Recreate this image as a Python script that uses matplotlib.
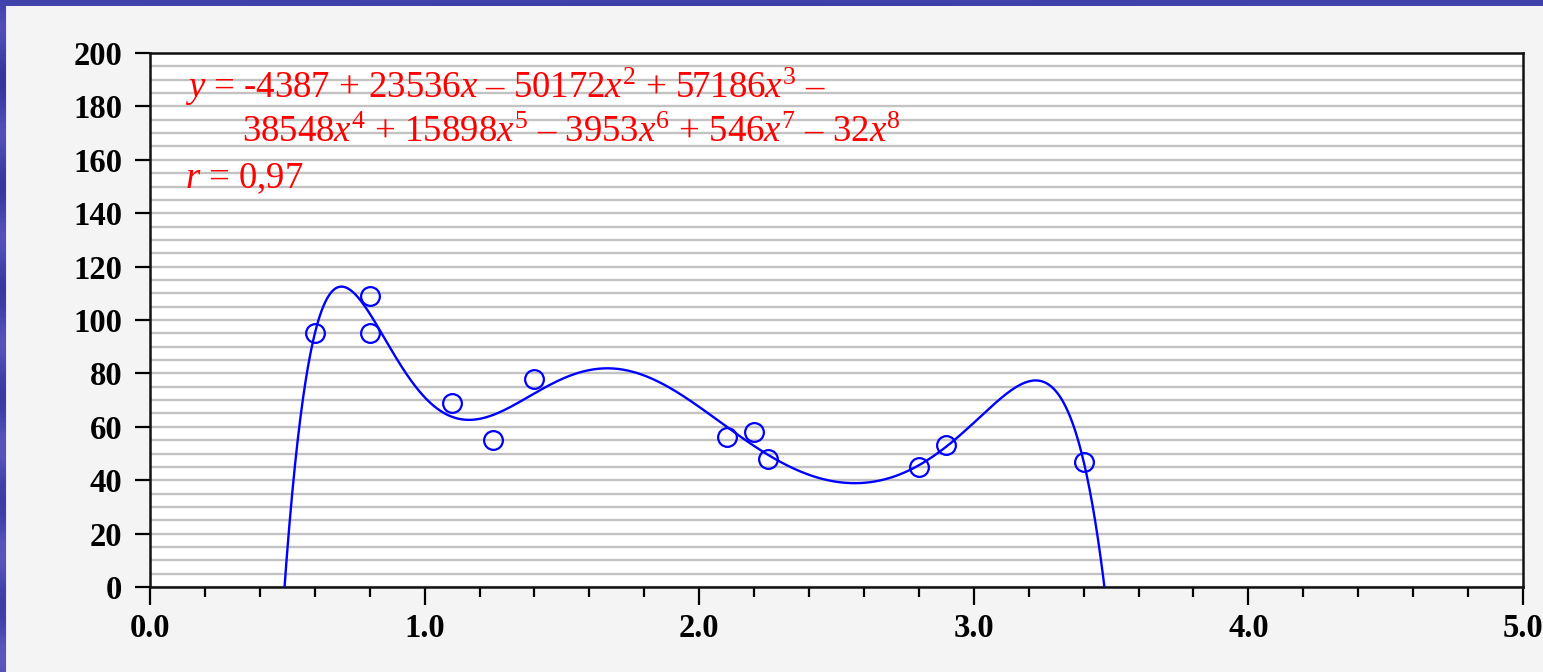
import numpy as np
import matplotlib
matplotlib.use("Agg")
import matplotlib.pyplot as plt
from matplotlib.patches import Rectangle

plt.rcParams["mathtext.fontset"] = "custom"
plt.rcParams["mathtext.rm"] = "Liberation Serif"
plt.rcParams["mathtext.it"] = "Liberation Serif:italic"

# Measured points
x_obs = [0.6, 0.8, 0.8, 1.1, 1.25, 1.4, 2.1, 2.2, 2.25, 2.8, 2.9, 3.4]
y_obs = [95, 109, 95, 69, 55, 78, 56, 58, 48, 45, 53, 47]

x_ticks = [0.0, 1.0, 2.0, 3.0, 4.0, 5.0]
y_ticks = [0, 20, 40, 60, 80, 100, 120, 140, 160, 180, 200]

eq_line1 = r"$y$ = -4387 + 23536$x$ – 50172$x^2$ + 57186$x^3$ –"
eq_line2 = r"38548$x^4$ + 15898$x^5$ – 3953$x^6$ + 546$x^7$ – 32$x^8$"
r_label = r"$r$ = 0,97"

W, H = 1543, 672
fig = plt.figure(figsize=(W / 100, H / 100), dpi=100)

# blue frame behind the light panel
bg = fig.add_axes([0, 0, 1, 1], zorder=-10)
bg.set_axis_off()
yy = np.linspace(0, 1, 200)[:, None]
xx = np.linspace(0, 1, 200)[None, :]
shade = 0.45 + 0.2 * np.sin(yy * 40) * np.cos(xx * 7) + 0.15 * yy
bg.imshow(shade, cmap=matplotlib.colors.LinearSegmentedColormap.from_list(
    "frame", ["#26268f", "#4a4ab4", "#7878cc"]), aspect="auto",
    extent=[0, 1, 0, 1], vmin=0, vmax=1.2)
bg.set_xlim(0, 1)
bg.set_ylim(0, 1)
bg.add_patch(Rectangle((6 / W, 0), 1.5 / W, 1 - 6 / H, color="#e8e8f4", lw=0))
bg.add_patch(Rectangle((7 / W, 0), 1, 1 - 6 / H, color="#f4f4f4", lw=0))

ax = fig.add_axes([150 / W, (H - 587) / H, (1523 - 150) / W, (587 - 53) / H])
ax.set_facecolor("white")
ax.set_xlim(0, 5)
ax.set_ylim(0, 200)

ax.set_yticks(y_ticks)
ax.set_yticks(np.arange(0, 201, 5), minor=True)
ax.set_xticks(x_ticks)
ax.set_xticks(np.arange(0, 5.01, 0.2), minor=True)
ax.set_xticklabels([f"{v:.1f}" for v in x_ticks])
ax.set_yticklabels([str(v) for v in y_ticks])

ax.grid(True, axis="y", which="both", color="#c2c2c2", lw=1.7)
ax.set_axisbelow(True)

for s in ax.spines.values():
    s.set_linewidth(1.8)
    s.set_color("#111111")

ax.tick_params(axis="y", which="major", direction="out", length=11, width=1.6,
               pad=9, labelsize=23.5)
ax.tick_params(axis="y", which="minor", length=0)
ax.tick_params(axis="x", which="major", direction="out", length=13, width=1.6,
               pad=6, labelsize=23.5)
ax.tick_params(axis="x", which="minor", direction="out", length=7, width=1.6)
for lab in ax.get_xticklabels() + ax.get_yticklabels():
    lab.set_fontfamily("Liberation Serif")
    lab.set_fontweight("bold")

# 8th-degree least-squares polynomial through the measurements
coef = np.polyfit(x_obs, y_obs, 8)
xs = np.linspace(0, 5, 2000)
ys = np.polyval(coef, xs)
ax.plot(xs, ys, color="#0000ff", lw=1.7, zorder=3)
ax.plot(x_obs, y_obs, "o", ms=13.5, mfc="none", mec="#0000ff", mew=1.6, zorder=4)

txt = dict(color="#ff0000", fontsize=26.5, family="Liberation Serif", va="baseline")
ax.text(0.127, 183.1, eq_line1, **txt)
ax.text(0.335, 166.7, eq_line2, **txt)
ax.text(0.127, 149.4, r_label, **txt)

fig.savefig("out.png", dpi=100)
